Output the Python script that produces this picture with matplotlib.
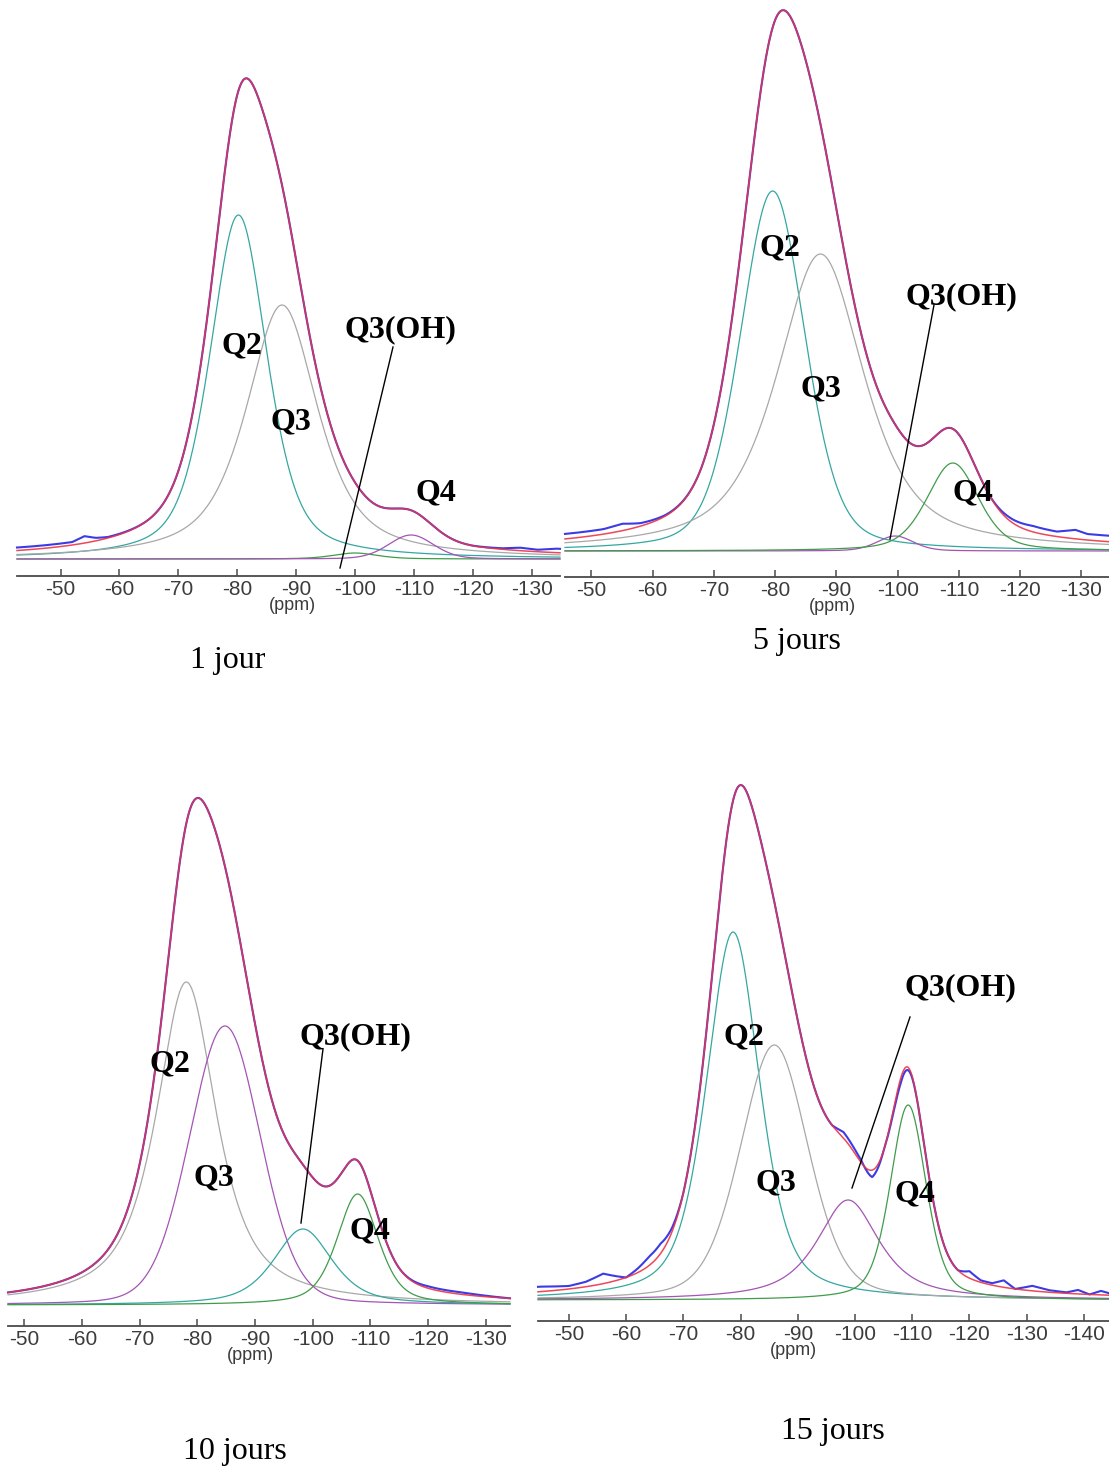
import numpy as np
import matplotlib.pyplot as plt
from matplotlib.lines import Line2D

W, H = 1109, 1472

# colours of the spectra
c_exp = "#3b3be6"
c_fit = "#ec3346"
c_teal = "#34a7a1"
c_grey = "#a8a8a8"
c_purple = "#a454b4"
c_green = "#3f9c4a"

# --- 1 jour ---
p1_ticks = [-50, -60, -70, -80, -90, -100, -110, -120, -130]
p1_center = [-80.2, -87.6, -100.0, -109.5]
p1_height = [344, 254, 6, 24]
p1_width = [11.5, 14.5, 9.0, 9.0]
p1_eta = [0.5, 0.7, 0.5, 0.2]
p1_color = [c_teal, c_grey, c_green, c_purple]
p1_res_ppm = [-43, -48, -52, -54, -56, -58, -65, -120, -125, -128, -131, -134]
p1_res_val = [3, 3, 3, 7, 3, 1, 0, 0, 1, 3, 2, 4]

# --- 5 jours ---
p2_ticks = [-50, -60, -70, -80, -90, -100, -110, -120, -130]
p2_center = [-79.6, -87.4, -99.6, -109.0]
p2_height = [360, 297, 15, 88]
p2_width = [12.5, 17.0, 7.0, 10.0]
p2_eta = [0.3, 0.7, 0.3, 0.4]
p2_color = [c_teal, c_grey, c_purple, c_green]
p2_res_ppm = [-46, -52, -55, -58, -62, -68, -115, -118, -122, -126, -129, -131, -135]
p2_res_val = [5, 5, 7, 3, 1, 0, 0, 3, 6, 5, 9, 6, 6]

# --- 10 jours ---
p3_ticks = [-50, -60, -70, -80, -90, -100, -110, -120, -130]
p3_center = [-78.1, -84.8, -98.3, -107.8]
p3_height = [323, 279, 76, 111]
p3_width = [12.5, 14.5, 12.0, 8.5]
p3_eta = [0.8, 0.15, 0.6, 0.5]
p3_color = [c_grey, c_purple, c_teal, c_green]
p3_res_ppm = [-47, -115, -120, -126, -134]
p3_res_val = [0, 0, 2, 2, 0]

# --- 15 jours ---
p4_ticks = [-50, -60, -70, -80, -90, -100, -110, -120, -130, -140]
p4_center = [-78.7, -85.9, -98.8, -109.3]
p4_height = [368, 255, 100, 195]
p4_width = [11.0, 14.0, 13.0, 7.4]
p4_eta = [0.5, 0.3, 0.8, 0.4]
p4_color = [c_teal, c_grey, c_purple, c_green]
p4_res_ppm = [-45, -50, -53, -56, -58, -60, -62, -64, -66, -68, -70, -96, -98,
              -101, -103, -105, -108, -111, -118, -120, -122, -124, -126, -128,
              -131, -134, -137, -139, -141, -143, -144.4]
p4_res_val = [5, 3, 5, 10, 5, 0, 4, 9, 10, 4, 0, 0, 6,
              3, -7, 0, -5, 0, 0, 7, 2, 2, 7, 0,
              5, 2, 1, 4, 0, 4, 2]

# panel frames in pixels: left, right, axis line, baseline, top, xlim
frames = [
    (17, 560, 576, 559, 20, (-42.6, -134.8)),
    (565, 1109, 577, 551, 0, (-45.7, -134.5)),
    (8, 510, 1326, 1305, 760, (-47.2, -134.2)),
    (538, 1109, 1321, 1300, 740, (-44.6, -144.4)),
]

labels = [
    {"Q2": (242, 346), "Q3": (291, 422), "Q3(OH)": (400, 330), "Q4": (436, 493)},
    {"Q2": (780, 248), "Q3": (821, 389), "Q3(OH)": (961, 297), "Q4": (973, 493)},
    {"Q2": (170, 1064), "Q3": (214, 1178), "Q3(OH)": (355, 1037), "Q4": (370, 1231)},
    {"Q2": (744, 1037), "Q3": (776, 1183), "Q3(OH)": (960, 988), "Q4": (915, 1194)},
]
leaders = [((393, 347), (340, 568)), ((934, 305), (890, 539)),
           ((323, 1049), (301, 1223)), ((910, 1017), (852, 1188))]
captions = [("1 jour", (228, 660)), ("5 jours", (797, 641)),
            ("10 jours", (235, 1452)), ("15 jours", (833, 1432))]

panels = [
    (p1_ticks, p1_center, p1_height, p1_width, p1_eta, p1_color, p1_res_ppm, p1_res_val),
    (p2_ticks, p2_center, p2_height, p2_width, p2_eta, p2_color, p2_res_ppm, p2_res_val),
    (p3_ticks, p3_center, p3_height, p3_width, p3_eta, p3_color, p3_res_ppm, p3_res_val),
    (p4_ticks, p4_center, p4_height, p4_width, p4_eta, p4_color, p4_res_ppm, p4_res_val),
]


def line_shape(x, c, h, w, eta):
    # pseudo-Voigt line used by the deconvolution
    u = (x - c) / w
    return h * ((1 - eta) * np.exp(-4 * np.log(2) * u ** 2) + eta / (1 + 4 * u ** 2))


fig = plt.figure(figsize=(W / 100, H / 100), dpi=100)

for (ticks, cen, hei, wid, eta, col, r_ppm, r_val), frame in zip(panels, frames):
    left, right, axis_y, base_y, top_y, xlim = frame
    ax = fig.add_axes([left / W, 1 - axis_y / H, (right - left) / W, (axis_y - top_y) / H])
    ax.set_xlim(xlim)
    ax.set_ylim(-(axis_y - base_y), base_y - top_y)

    x = np.linspace(xlim[0], xlim[1], 1200)
    total = np.zeros_like(x)
    comps = []
    for c, h, w, e in zip(cen, hei, wid, eta):
        y = line_shape(x, c, h, w, e)
        comps.append(y)
        total += y
    # residual points are listed from left to right (decreasing ppm)
    resid = np.interp(-x, [-p for p in r_ppm], r_val)

    for y, cl in zip(comps, col):
        ax.plot(x, y, color=cl, lw=0.9, clip_on=False)
    ax.plot(x, total + resid, color=c_exp, lw=1.5, clip_on=False)
    ax.plot(x, total, color=c_fit, lw=1.1, alpha=0.9, clip_on=False)

    for s in ["left", "right", "top"]:
        ax.spines[s].set_visible(False)
    ax.spines["bottom"].set_color("#4a4a4a")
    ax.spines["bottom"].set_linewidth(1.3)
    ax.set_yticks([])
    ax.set_xticks(ticks)
    ax.set_xticklabels([str(t) for t in ticks], family="Liberation Sans",
                       fontsize=15, color="#3c3c3c")
    ax.tick_params(axis="x", direction="in", length=5, width=1.1, color="#4a4a4a", pad=3)
    ax.annotate("(ppm)", xy=(-89.3, 0), xycoords=("data", "axes fraction"),
                xytext=(0, -21), textcoords="offset points", ha="center", va="center",
                family="Liberation Sans", fontsize=13, color="#3c3c3c")

for lab in labels:
    for txt, (px, py) in lab.items():
        fig.text(px / W, 1 - py / H, txt, ha="center", va="center",
                 family="Liberation Serif", fontweight="bold", fontsize=23)

for (x0, y0), (x1, y1) in leaders:
    fig.add_artist(Line2D([x0 / W, x1 / W], [1 - y0 / H, 1 - y1 / H], color="black", lw=1.0))

for txt, (px, py) in captions:
    fig.text(px / W, 1 - py / H, txt, ha="center", va="center",
             family="Liberation Serif", fontsize=23)

fig.savefig("out.png", dpi=100)
